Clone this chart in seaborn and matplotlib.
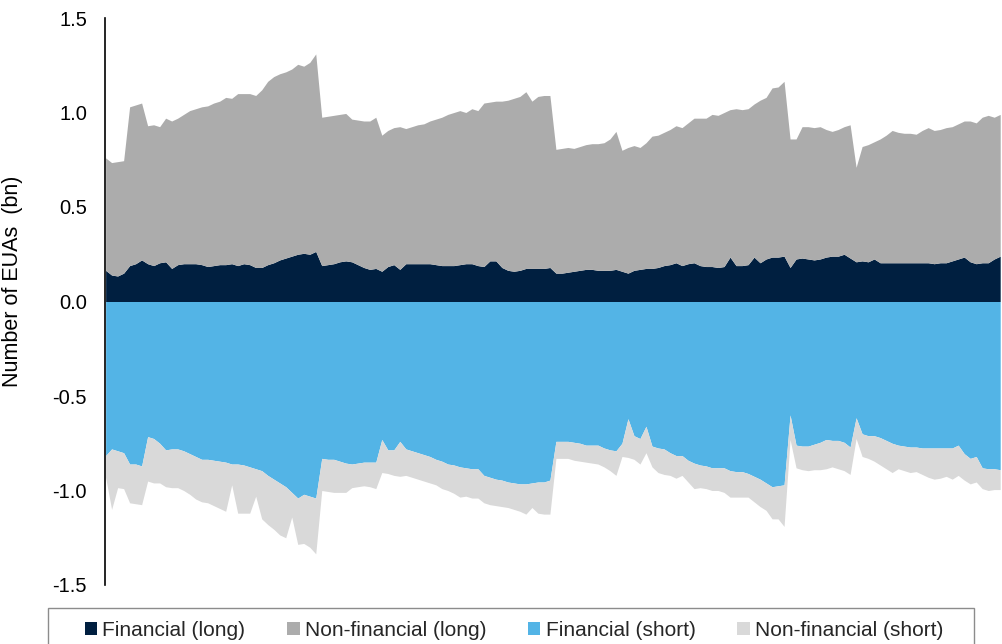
import matplotlib
matplotlib.use("Agg")

import numpy as np
import matplotlib.pyplot as plt
import seaborn as sns
from matplotlib.patches import Rectangle

# Weekly positions (bn EUAs)
weeks = np.arange(150)

fin_long = [
    0.165, 0.14, 0.135, 0.15, 0.19, 0.20, 0.22, 0.20, 0.19, 0.205,
    0.21, 0.175, 0.195, 0.20, 0.20, 0.20, 0.195, 0.185, 0.19, 0.195,
    0.195, 0.20, 0.19, 0.20, 0.195, 0.18, 0.18, 0.195, 0.205, 0.22,
    0.23, 0.24, 0.25, 0.255, 0.25, 0.265, 0.19, 0.195, 0.20, 0.21,
    0.215, 0.21, 0.195, 0.18, 0.17, 0.175, 0.16, 0.185, 0.195, 0.17,
    0.20, 0.20, 0.20, 0.20, 0.20, 0.195, 0.19, 0.19, 0.19, 0.195,
    0.20, 0.20, 0.19, 0.185, 0.215, 0.215, 0.18, 0.165, 0.16, 0.165,
    0.175, 0.175, 0.175, 0.175, 0.18, 0.15, 0.15, 0.155, 0.16, 0.165,
    0.17, 0.17, 0.165, 0.165, 0.165, 0.17, 0.16, 0.15, 0.165, 0.17,
    0.175, 0.175, 0.18, 0.19, 0.195, 0.205, 0.19, 0.20, 0.205, 0.19,
    0.185, 0.185, 0.18, 0.185, 0.235, 0.19, 0.19, 0.195, 0.235, 0.205,
    0.225, 0.235, 0.235, 0.24, 0.18, 0.225, 0.23, 0.225, 0.22, 0.225,
    0.235, 0.24, 0.24, 0.25, 0.23, 0.21, 0.215, 0.21, 0.225, 0.205,
    0.205, 0.205, 0.205, 0.205, 0.205, 0.205, 0.205, 0.205, 0.20, 0.205,
    0.205, 0.215, 0.225, 0.235, 0.21, 0.20, 0.205, 0.205, 0.225, 0.24,
]

# top of the long stack (financial + non-financial)
total_long = [
    0.76, 0.735, 0.74, 0.745, 1.03, 1.04, 1.05, 0.93, 0.935, 0.925,
    0.97, 0.955, 0.97, 0.99, 1.01, 1.02, 1.03, 1.035, 1.05, 1.06,
    1.08, 1.075, 1.10, 1.10, 1.10, 1.09, 1.12, 1.165, 1.19, 1.205,
    1.215, 1.23, 1.255, 1.245, 1.265, 1.31, 0.975, 0.98, 0.985, 0.99,
    0.995, 0.965, 0.96, 0.955, 0.955, 0.975, 0.88, 0.905, 0.92, 0.925,
    0.915, 0.925, 0.935, 0.94, 0.955, 0.965, 0.975, 0.99, 1.0, 1.01,
    1.0, 1.02, 1.01, 1.05, 1.055, 1.06, 1.06, 1.065, 1.075, 1.085,
    1.11, 1.06, 1.085, 1.09, 1.09, 0.805, 0.81, 0.815, 0.81, 0.82,
    0.83, 0.835, 0.835, 0.84, 0.86, 0.90, 0.80, 0.815, 0.825, 0.815,
    0.84, 0.875, 0.88, 0.895, 0.91, 0.93, 0.92, 0.945, 0.97, 0.97,
    0.97, 0.99, 0.985, 1.0, 1.015, 1.02, 1.015, 1.02, 1.045, 1.065,
    1.08, 1.13, 1.135, 1.165, 0.86, 0.86, 0.925, 0.925, 0.92, 0.925,
    0.91, 0.90, 0.91, 0.925, 0.935, 0.71, 0.82, 0.83, 0.845, 0.86,
    0.88, 0.905, 0.895, 0.89, 0.89, 0.885, 0.905, 0.92, 0.905, 0.91,
    0.92, 0.925, 0.94, 0.955, 0.955, 0.945, 0.975, 0.985, 0.975, 0.99,
]

fin_short = [
    -0.815, -0.78, -0.79, -0.80, -0.86, -0.86, -0.87, -0.715, -0.725, -0.75,
    -0.785, -0.78, -0.78, -0.79, -0.805, -0.82, -0.835, -0.835, -0.84, -0.845,
    -0.85, -0.86, -0.86, -0.865, -0.875, -0.885, -0.895, -0.92, -0.94, -0.96,
    -0.98, -1.01, -1.04, -1.02, -1.03, -1.04, -0.83, -0.835, -0.835, -0.845,
    -0.855, -0.86, -0.855, -0.85, -0.85, -0.85, -0.73, -0.785, -0.785, -0.74,
    -0.78, -0.79, -0.80, -0.81, -0.82, -0.835, -0.845, -0.86, -0.865, -0.875,
    -0.88, -0.885, -0.885, -0.92, -0.93, -0.94, -0.945, -0.955, -0.96, -0.965,
    -0.965, -0.96, -0.955, -0.955, -0.945, -0.74, -0.74, -0.74, -0.745, -0.75,
    -0.76, -0.76, -0.76, -0.775, -0.785, -0.79, -0.75, -0.62, -0.71, -0.725,
    -0.66, -0.765, -0.775, -0.78, -0.80, -0.815, -0.815, -0.84, -0.855, -0.865,
    -0.87, -0.88, -0.88, -0.88, -0.895, -0.90, -0.90, -0.91, -0.925, -0.94,
    -0.96, -0.98, -0.975, -0.97, -0.60, -0.76, -0.765, -0.765, -0.755, -0.745,
    -0.73, -0.735, -0.735, -0.745, -0.77, -0.615, -0.70, -0.71, -0.71, -0.72,
    -0.735, -0.75, -0.76, -0.765, -0.77, -0.77, -0.775, -0.775, -0.775, -0.775,
    -0.775, -0.775, -0.76, -0.805, -0.83, -0.82, -0.88, -0.885, -0.885, -0.89,
]

# bottom of the short stack (financial + non-financial)
total_short = [
    -0.93, -1.10, -0.985, -0.99, -1.065, -1.07, -1.075, -0.95, -0.96, -0.96,
    -0.98, -0.985, -0.985, -1.0, -1.02, -1.045, -1.06, -1.065, -1.08, -1.095,
    -1.11, -0.97, -1.12, -1.12, -1.12, -1.03, -1.15, -1.18, -1.205, -1.235,
    -1.25, -1.14, -1.285, -1.28, -1.30, -1.335, -1.0, -1.005, -1.01, -1.01,
    -1.01, -0.985, -0.98, -0.975, -0.98, -0.99, -0.905, -0.91, -0.92, -0.925,
    -0.92, -0.93, -0.94, -0.95, -0.96, -0.97, -0.99, -1.0, -1.015, -1.035,
    -1.03, -1.04, -1.04, -1.065, -1.075, -1.08, -1.085, -1.09, -1.10, -1.11,
    -1.125, -1.09, -1.12, -1.125, -1.125, -0.83, -0.83, -0.83, -0.84, -0.845,
    -0.85, -0.855, -0.86, -0.875, -0.895, -0.92, -0.82, -0.825, -0.835, -0.86,
    -0.80, -0.875, -0.905, -0.915, -0.92, -0.935, -0.92, -0.955, -0.99, -0.985,
    -0.99, -1.0, -1.0, -1.01, -1.035, -1.035, -1.035, -1.035, -1.06, -1.085,
    -1.105, -1.15, -1.15, -1.19, -0.73, -0.88, -0.89, -0.895, -0.89, -0.89,
    -0.885, -0.875, -0.885, -0.895, -0.915, -0.725, -0.82, -0.83, -0.845, -0.865,
    -0.885, -0.905, -0.885, -0.895, -0.905, -0.90, -0.915, -0.93, -0.94, -0.935,
    -0.925, -0.94, -0.92, -0.945, -0.965, -0.955, -0.99, -1.0, -0.995, -0.995,
]

labels = ["Financial (long)", "Non-financial (long)",
          "Financial (short)", "Non-financial (short)"]
colors = ["#001f40", "#acacac", "#53b4e6", "#d9d9d9"]
yticks = [-1.5, -1.0, -0.5, 0.0, 0.5, 1.0, 1.5]

sns.set_theme(style="white")
plt.rcParams["font.family"] = ["Liberation Sans", "DejaVu Sans"]

nonfin_long = np.array(total_long) - np.array(fin_long)
nonfin_short = np.array(total_short) - np.array(fin_short)

fig = plt.figure(figsize=(10.02, 6.44), dpi=100)
ax = fig.add_axes([105 / 1002, 59 / 644, 897 / 1002, 567 / 644])

pos = ax.stackplot(weeks, fin_long, nonfin_long, colors=colors[:2], linewidth=0)
neg = ax.stackplot(weeks, fin_short, nonfin_short, colors=colors[2:], linewidth=0)

ax.set_xlim(-0.1, 149.3)
ax.set_ylim(-1.5, 1.5)
ax.set_yticks(yticks)
ax.set_yticklabels([f"{v:.1f}" for v in yticks], fontsize=14.5, color="black")
ax.set_xticks([])
ax.tick_params(axis="y", length=0, pad=13)
ax.set_ylabel("Number of EUAs  (bn)", fontsize=15.5, color="black")
ax.yaxis.set_label_coords(-0.091, 0.536)

for side in ["top", "right", "bottom"]:
    ax.spines[side].set_visible(False)
ax.spines["left"].set_color("black")
ax.spines["left"].set_linewidth(1.2)

# legend box is wider than its entries, so draw the frame separately
fig.patches.append(Rectangle((48 / 1002, -0.05), 926 / 1002, 0.05 + 36 / 644,
                             transform=fig.transFigure, facecolor="none",
                             edgecolor="#8c8c8c", linewidth=1.0))
handles = list(pos) + list(neg)
fig.legend(handles, labels, ncol=4, loc="center",
           bbox_to_anchor=(514 / 1002, 1 - 630 / 644),
           frameon=False, fontsize=15, handlelength=0.6, handleheight=0.6,
           handletextpad=0.25, columnspacing=2.0, borderpad=0, borderaxespad=0)

fig.savefig("out.png", dpi=100)
